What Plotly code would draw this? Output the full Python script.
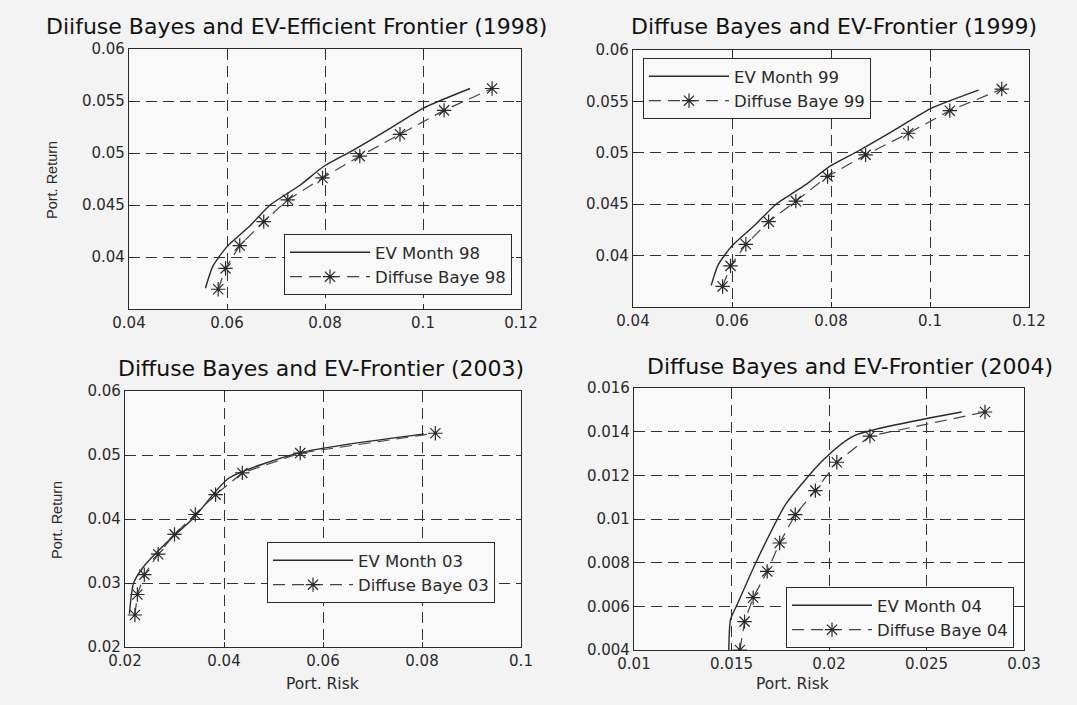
import plotly.graph_objects as go

# ---------------- data ----------------
ev98_risk = [0.0556, 0.0571, 0.0600, 0.0647, 0.0688, 0.0749, 0.0797, 0.0855, 0.0927, 0.1000, 0.1096]
ev98_ret = [0.0370, 0.0391, 0.0410, 0.0430, 0.0450, 0.0469, 0.0487, 0.0502, 0.0522, 0.0543, 0.0562]
db98_risk = [0.0582, 0.0597, 0.0626, 0.0675, 0.0724, 0.0795, 0.0871, 0.0953, 0.1043, 0.1141]
db98_ret = [0.0369, 0.0389, 0.0411, 0.0434, 0.0455, 0.0476, 0.0497, 0.0518, 0.0541, 0.0562]

ev99_risk = [0.0558, 0.0572, 0.0601, 0.0647, 0.0689, 0.0749, 0.0798, 0.0856, 0.0928, 0.1001, 0.1098]
ev99_ret = [0.0371, 0.0391, 0.0410, 0.0430, 0.0450, 0.0469, 0.0487, 0.0502, 0.0522, 0.0543, 0.0561]
db99_risk = [0.0581, 0.0597, 0.0628, 0.0674, 0.0729, 0.0793, 0.0870, 0.0956, 0.1040, 0.1145]
db99_ret = [0.0370, 0.0390, 0.0411, 0.0433, 0.0453, 0.0477, 0.0498, 0.0519, 0.0541, 0.0562]

ev03_risk = [0.0209, 0.0217, 0.0237, 0.0281, 0.0339, 0.0410, 0.0556, 0.0804]
ev03_ret = [0.0252, 0.0299, 0.0325, 0.0361, 0.0402, 0.0464, 0.0504, 0.0533]
db03_risk = [0.0220, 0.0225, 0.0239, 0.0267, 0.0300, 0.0342, 0.0383, 0.0437, 0.0554, 0.0827]
db03_ret = [0.0250, 0.0282, 0.0313, 0.0345, 0.0376, 0.0407, 0.0438, 0.0472, 0.0503, 0.0534]

ev04_risk = [0.01486, 0.01495, 0.0153, 0.0163, 0.0178, 0.0197, 0.02125, 0.0268]
ev04_ret = [0.0040, 0.0054, 0.0061, 0.0081, 0.0107, 0.0127, 0.0138, 0.0149]
db04_risk = [0.01543, 0.01567, 0.01611, 0.01683, 0.01747, 0.01827, 0.0193, 0.0204, 0.0221, 0.0280]
db04_ret = [0.0040, 0.0053, 0.0064, 0.0076, 0.0089, 0.0102, 0.0113, 0.0126, 0.0138, 0.0149]

titles = ["Diifuse Bayes and EV-Efficient Frontier (1998)",
          "Diffuse Bayes and EV-Frontier (1999)",
          "Diffuse Bayes and EV-Frontier (2003)",
          "Diffuse Bayes and EV-Frontier (2004)"]
ev_names = ["EV Month 98", "EV Month 99", "EV Month 03", "EV Month 04"]
db_names = ["Diffuse Baye 98", "Diffuse Baye 99", "Diffuse Baye 03", "Diffuse Baye 04"]

xt_top = [0.04, 0.06, 0.08, 0.10, 0.12]
xt_top_text = ["0.04", "0.06", "0.08", "0.1", "0.12"]
yt_top = [0.04, 0.045, 0.05, 0.055, 0.06]
yt_top_text = ["0.04", "0.045", "0.05", "0.055", "0.06"]
xt_03 = [0.02, 0.04, 0.06, 0.08, 0.10]
xt_03_text = ["0.02", "0.04", "0.06", "0.08", "0.1"]
yt_03 = [0.02, 0.03, 0.04, 0.05, 0.06]
yt_03_text = ["0.02", "0.03", "0.04", "0.05", "0.06"]
xt_04 = [0.01, 0.015, 0.02, 0.025, 0.03]
xt_04_text = ["0.01", "0.015", "0.02", "0.025", "0.03"]
yt_04 = [0.004, 0.006, 0.008, 0.01, 0.012, 0.014, 0.016]
yt_04_text = ["0.004", "0.006", "0.008", "0.01", "0.012", "0.014", "0.016"]

# ---------------- figure ----------------
W, H = 1077, 705
FONT = "DejaVu Sans, Verdana, sans-serif"
FONT_V = "Liberation Sans, Arial, sans-serif"
INK = "#2a2a2a"


def px_x(p):
    return p / W


def px_y(p):
    return 1 - p / H


panels = [
    dict(ev=(ev98_risk, ev98_ret), db=(db98_risk, db98_ret),
         xd=[px_x(129), px_x(521)], yd=[px_y(309), px_y(49)],
         xr=[0.04, 0.12], yr=[0.035, 0.06], xt=(xt_top, xt_top_text), yt=(yt_top, yt_top_text),
         leg=dict(x=px_x(512), y=px_y(295), xanchor="right", yanchor="bottom"),
         title_xy=(296, 27)),
    dict(ev=(ev99_risk, ev99_ret), db=(db99_risk, db99_ret),
         xd=[px_x(633), px_x(1029)], yd=[px_y(307), px_y(50)],
         xr=[0.04, 0.12], yr=[0.035, 0.06], xt=(xt_top, xt_top_text), yt=(yt_top, yt_top_text),
         leg=dict(x=px_x(643), y=px_y(58), xanchor="left", yanchor="top"),
         title_xy=(834, 27)),
    dict(ev=(ev03_risk, ev03_ret), db=(db03_risk, db03_ret),
         xd=[px_x(125), px_x(521)], yd=[px_y(647), px_y(391)],
         xr=[0.02, 0.10], yr=[0.02, 0.06], xt=(xt_03, xt_03_text), yt=(yt_03, yt_03_text),
         leg=dict(x=px_x(495), y=px_y(603), xanchor="right", yanchor="bottom"),
         title_xy=(321, 368)),
    dict(ev=(ev04_risk, ev04_ret), db=(db04_risk, db04_ret),
         xd=[px_x(634), px_x(1024)], yd=[px_y(650), px_y(388)],
         xr=[0.01, 0.03], yr=[0.004, 0.016], xt=(xt_04, xt_04_text), yt=(yt_04, yt_04_text),
         leg=dict(x=px_x(1014), y=px_y(648), xanchor="right", yanchor="bottom"),
         title_xy=(850, 366)),
]

fig = go.Figure()
layout = dict(
    width=W, height=H,
    margin=dict(l=0, r=0, t=0, b=0, autoexpand=False),
    paper_bgcolor="#f3f3f3",
    plot_bgcolor="#f9f9f9",
    font=dict(family=FONT, color=INK, size=15),
    showlegend=True,
)
annotations = []

for i, p in enumerate(panels):
    k = "" if i == 0 else str(i + 1)
    legname = "legend" if i == 0 else f"legend{i + 1}"
    fig.add_trace(go.Scatter(
        x=p["ev"][0], y=p["ev"][1], mode="lines", name=ev_names[i],
        line=dict(color=INK, width=1.4, shape="spline", smoothing=0.6),
        xaxis="x" + k, yaxis="y" + k, legend=legname))
    fig.add_trace(go.Scatter(
        x=p["db"][0], y=p["db"][1], mode="lines+markers", name=db_names[i],
        line=dict(color="#444", width=1.2, dash="12px,7px"),
        marker=dict(symbol="asterisk-open", size=12, color=INK, line=dict(color=INK, width=1.2)),
        xaxis="x" + k, yaxis="y" + k, legend=legname))
    axcommon = dict(showline=True, linecolor=INK, linewidth=1.3, mirror="ticks",
                    ticks="inside", ticklen=5, tickcolor=INK, showgrid=True,
                    gridcolor="#333", gridwidth=1, griddash="11px,6px", zeroline=False,
                    tickfont=dict(size=15, color=INK, family=FONT))
    layout["xaxis" + k] = dict(axcommon, domain=p["xd"], range=p["xr"], anchor="y" + k,
                               tickvals=p["xt"][0], ticktext=p["xt"][1])
    layout["yaxis" + k] = dict(axcommon, domain=p["yd"], range=p["yr"], anchor="x" + k,
                               tickvals=p["yt"][0], ticktext=p["yt"][1])
    layout[legname] = dict(p["leg"], bgcolor="#f9f9f9", bordercolor=INK, borderwidth=1,
                           font=dict(size=16.5, color=INK, family=FONT), itemwidth=80,
                           tracegroupgap=4)
    annotations.append(dict(text=titles[i], x=px_x(p["title_xy"][0]), y=px_y(p["title_xy"][1]),
                            xref="paper", yref="paper", showarrow=False,
                            font=dict(size=22, color="#111", family=FONT),
                            xanchor="center", yanchor="middle"))

# axis titles
axis_titles = [
    dict(text="Port. Return", x=px_x(52), y=px_y(180), textangle=-90,
         font=dict(size=14.5, color=INK, family=FONT_V)),
    dict(text="Port. Return", x=px_x(57), y=px_y(520), textangle=-90,
         font=dict(size=14.5, color=INK, family=FONT_V)),
    dict(text="Port. Risk", x=px_x(322), y=px_y(684),
         font=dict(size=15.5, color=INK, family=FONT)),
    dict(text="Port. Risk", x=px_x(792), y=px_y(684),
         font=dict(size=15.5, color=INK, family=FONT)),
]
for a in axis_titles:
    a.update(xref="paper", yref="paper", showarrow=False, xanchor="center", yanchor="middle")
annotations += axis_titles

layout["annotations"] = annotations
fig.update_layout(**layout)
fig.write_html("out.html")
